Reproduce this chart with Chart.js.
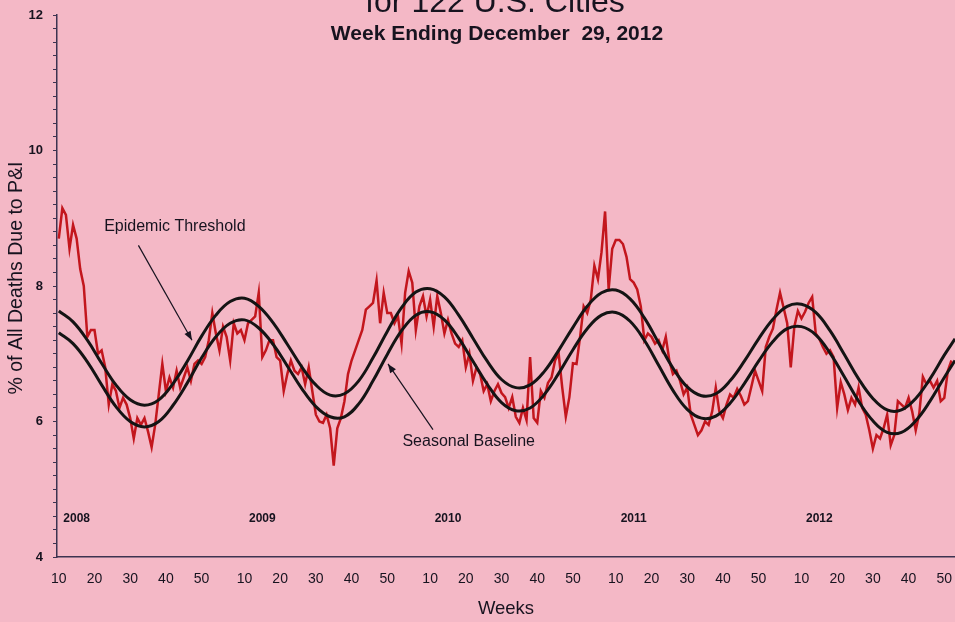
<!DOCTYPE html>
<html>
<head>
<meta charset="utf-8">
<script src="https://cdn.jsdelivr.net/npm/chart.js"></script>
<style>
  html, body { margin: 0; padding: 0; background: #f4b8c6; }
  #wrap { width: 955px; height: 622px; position: relative; }
</style>
</head>
<body>
<div id="wrap"><canvas id="piChart"></canvas></div>
<script>
// weekly series starts at MMWR week 10 of 2008
const startWeek = 10;
const weeksPerYear = 52;
const yearLabels = ['2008', '2009', '2010', '2011', '2012'];
const weekTickLabels = ['10', '20', '30', '40', '50'];
const yTickLabels = ['4', '6', '8', '10', '12'];

// % of all deaths due to pneumonia & influenza, one value per week
const piPercent = [
  8.7, 9.15, 9.05, 8.55, 8.9, 8.7, 8.25, 8.0, 7.25, 7.35,
  7.35, 7.0, 7.05, 6.8, 6.25, 6.55, 6.45, 6.2, 6.35, 6.25,
  6.05, 5.75, 6.05, 5.95, 6.05, 5.85, 5.62, 5.95, 6.4, 6.85,
  6.45, 6.65, 6.5, 6.75, 6.5, 6.65, 6.8, 6.6, 6.85, 6.9,
  6.85, 6.95, 7.2, 7.6, 7.3, 7.05, 7.4, 7.25, 6.9, 7.45,
  7.3, 7.35, 7.2, 7.45, 7.5, 7.55, 7.9, 6.95, 7.05, 7.2,
  7.2, 6.95, 6.9, 6.45, 6.7, 6.9, 6.75, 6.7, 6.8, 6.55,
  6.8, 6.45, 6.1, 6.0, 5.98, 6.1, 5.9, 5.35, 5.9, 6.05,
  6.3, 6.7, 6.9, 7.05, 7.2, 7.35, 7.65, 7.7, 7.75, 8.08,
  7.45, 7.9, 7.6, 7.6, 7.45, 7.55, 7.15, 7.9, 8.22, 8.05,
  7.35, 7.7, 7.85, 7.55, 7.8, 7.4, 7.85, 7.6, 7.3, 7.5,
  7.3, 7.15, 7.1, 7.2, 6.8, 7.0, 6.6, 6.8, 6.7, 6.45,
  6.55, 6.3, 6.45, 6.55, 6.42, 6.36, 6.2, 6.36, 6.07, 5.98,
  6.2, 6.02, 6.95, 6.05, 5.98, 6.45, 6.35, 6.57, 6.65, 6.9,
  7.0, 6.5, 6.07, 6.36, 6.86, 6.85, 7.25, 7.7, 7.6, 7.8,
  8.3, 8.1, 8.5, 9.1, 7.95, 8.55, 8.68, 8.68, 8.62, 8.43,
  8.1, 8.05, 7.95, 7.7, 7.2, 7.3, 7.25, 7.15, 7.2, 7.05,
  7.25, 6.9, 6.7, 6.75, 6.6, 6.4, 6.5, 6.1, 5.95, 5.8,
  5.87, 6.0, 5.95, 6.15, 6.5, 6.15, 6.05, 6.25, 6.4, 6.35,
  6.48, 6.38, 6.25, 6.3, 6.52, 6.75, 6.6, 6.45, 7.1, 7.25,
  7.37, 7.65, 7.9, 7.68, 7.45, 6.8, 7.4, 7.63, 7.52, 7.62,
  7.75, 7.84, 7.3, 7.22, 7.1, 7.0, 7.05, 6.95, 6.2, 6.58,
  6.4, 6.17, 6.35, 6.25, 6.5, 6.2, 6.1, 5.87, 5.6, 5.8,
  5.75, 5.9, 6.1, 5.65, 5.8, 6.3, 6.25, 6.2, 6.35, 6.15,
  5.87, 6.12, 6.66, 6.55, 6.6, 6.5, 6.6, 6.3, 6.35, 6.75,
  6.9
];

// baseline / threshold read every 4 weeks (week index from start)
const curveWeeks = [
  0, 4, 8, 12, 16, 20, 24, 28, 32, 36, 40, 44, 48, 52, 56, 60,
  64, 68, 72, 76, 80, 84, 88, 92, 96, 100, 104, 108, 112, 116, 120, 124,
  128, 132, 136, 140, 144, 148, 152, 156, 160, 164, 168, 172, 176, 180, 184, 188,
  192, 196, 200, 204, 208, 212, 216, 220, 224, 228, 232, 236, 240, 244, 248, 251
];
const seasonalBaseline = [
  7.31, 7.15, 6.88, 6.54, 6.22, 6.00, 5.92, 6.00, 6.24, 6.57, 6.94, 7.25, 7.45, 7.50, 7.38, 7.14,
  6.82, 6.49, 6.22, 6.07, 6.07, 6.26, 6.60, 6.99, 7.34, 7.57, 7.62, 7.50, 7.23, 6.89, 6.55, 6.28,
  6.16, 6.20, 6.40, 6.71, 7.06, 7.37, 7.57, 7.61, 7.48, 7.20, 6.83, 6.46, 6.18, 6.05, 6.08, 6.27,
  6.56, 6.89, 7.18, 7.37, 7.40, 7.28, 7.01, 6.66, 6.30, 6.01, 5.84, 5.84, 6.01, 6.30, 6.65, 6.90
];
const epidemicThreshold = [
  7.63, 7.47, 7.20, 6.86, 6.54, 6.32, 6.24, 6.32, 6.56, 6.89, 7.26, 7.57, 7.77, 7.82, 7.70, 7.46,
  7.14, 6.81, 6.54, 6.39, 6.41, 6.60, 6.94, 7.33, 7.68, 7.91, 7.96, 7.84, 7.57, 7.23, 6.89, 6.62,
  6.50, 6.54, 6.74, 7.05, 7.39, 7.70, 7.90, 7.94, 7.81, 7.53, 7.16, 6.79, 6.51, 6.38, 6.41, 6.60,
  6.89, 7.22, 7.51, 7.70, 7.73, 7.61, 7.34, 6.99, 6.63, 6.34, 6.17, 6.17, 6.34, 6.63, 6.98, 7.22
];

const FONT = '"Liberation Sans", Arial, sans-serif';
const INK = '#17131f';

function weekOf(i) {
  return ((i + startWeek - 1) % weeksPerYear) + 1;
}

const xTickIdx = [];
piPercent.forEach(function(v, i) {
  if (weekTickLabels.includes(String(weekOf(i)))) xTickIdx.push(i);
});

function arrow(ctx, x0, y0, x1, y1) {
  ctx.beginPath();
  ctx.moveTo(x0, y0);
  ctx.lineTo(x1, y1);
  ctx.stroke();
  const a = Math.atan2(y1 - y0, x1 - x0);
  ctx.beginPath();
  ctx.moveTo(x1, y1);
  ctx.lineTo(x1 - 9 * Math.cos(a) + 3.5 * Math.sin(a), y1 - 9 * Math.sin(a) - 3.5 * Math.cos(a));
  ctx.lineTo(x1 - 9 * Math.cos(a) - 3.5 * Math.sin(a), y1 - 9 * Math.sin(a) + 3.5 * Math.cos(a));
  ctx.closePath();
  ctx.fill();
}

const overlay = {
  id: 'overlay',
  afterDraw(chart) {
    const ctx = chart.ctx;
    const x = chart.scales.x, y = chart.scales.y;
    ctx.save();
    ctx.fillStyle = INK;
    ctx.strokeStyle = INK;
    ctx.textAlign = 'center';
    ctx.textBaseline = 'alphabetic';
    ctx.font = '32px ' + FONT;
    ctx.fillText('for 122 U.S. Cities', 495, 12);
    ctx.font = 'bold 21px ' + FONT;
    ctx.fillText('Week Ending December  29, 2012', 497, 40);

    // y axis title
    ctx.save();
    ctx.translate(17, 278);
    ctx.rotate(-Math.PI / 2);
    ctx.textBaseline = 'middle';
    ctx.font = '19.5px ' + FONT;
    ctx.fillText('% of All Deaths Due to P&I', 0, 0);
    ctx.restore();

    // year labels near the bottom of the plot
    ctx.font = 'bold 12px ' + FONT;
    ctx.textBaseline = 'middle';
    yearLabels.forEach(function(lbl, k) {
      ctx.fillText(lbl, x.getPixelForValue(k * weeksPerYear + 15 - startWeek), y.getPixelForValue(4.57));
    });

    // annotations
    ctx.font = '16px ' + FONT;
    ctx.fillText('Epidemic Threshold', x.getPixelForValue(32.5), y.getPixelForValue(8.87));
    ctx.fillText('Seasonal Baseline', x.getPixelForValue(114.8), y.getPixelForValue(5.7));
    ctx.lineWidth = 1.2;
    arrow(ctx, x.getPixelForValue(22.3), y.getPixelForValue(8.6), x.getPixelForValue(37.3), y.getPixelForValue(7.2));
    arrow(ctx, x.getPixelForValue(104.8), y.getPixelForValue(5.88), x.getPixelForValue(92.2), y.getPixelForValue(6.85));
    ctx.restore();
  }
};

new Chart(document.getElementById('piChart'), {
  type: 'line',
  data: {
    datasets: [{
      label: 'Epidemic Threshold',
      data: curveWeeks.map(function(w, k) { return {x: w, y: epidemicThreshold[k]}; }),
      borderColor: '#141414',
      borderWidth: 3,
      pointRadius: 0,
      tension: 0.4
    }, {
      label: 'Seasonal Baseline',
      data: curveWeeks.map(function(w, k) { return {x: w, y: seasonalBaseline[k]}; }),
      borderColor: '#141414',
      borderWidth: 3,
      pointRadius: 0,
      tension: 0.4
    }, {
      label: 'P&I',
      data: piPercent.map(function(v, i) { return {x: i, y: v}; }),
      borderColor: '#c3161d',
      borderWidth: 2.5,
      pointRadius: 0,
      tension: 0
    }]
  },
  options: {
    responsive: true,
    maintainAspectRatio: false,
    animation: false,
    layout: { padding: { top: 15, right: 0, left: 0, bottom: 0 } },
    plugins: {
      legend: { display: false },
      tooltip: { enabled: false }
    },
    scales: {
      x: {
        type: 'linear',
        min: -0.5,
        max: 251,
        afterFit: function(s) { s.height = 65; s.paddingLeft = 0; s.paddingRight = 0; },
        afterBuildTicks: function(s) { s.ticks = xTickIdx.map(function(v) { return {value: v}; }); },
        grid: { drawOnChartArea: false, drawTicks: false },
        border: { color: '#3d3350', width: 1.5 },
        ticks: {
          autoSkip: false,
          maxRotation: 0,
          padding: 14,
          color: INK,
          font: { family: FONT, size: 14 },
          callback: function(v) { return String(weekOf(v)); }
        },
        title: {
          display: true,
          text: 'Weeks',
          color: INK,
          font: { family: FONT, size: 18.5 },
          padding: { top: 0, bottom: 2 }
        }
      },
      y: {
        min: 4,
        max: 12,
        afterFit: function(s) { s.width = 57; s.paddingTop = 0; s.paddingBottom = 0; },
        grid: { drawOnChartArea: false, tickLength: 4, tickColor: '#3d3350' },
        border: { color: '#3d3350', width: 1.5 },
        ticks: {
          stepSize: 0.2,
          autoSkip: false,
          padding: 10,
          color: INK,
          font: { family: FONT, size: 13, weight: 'bold' },
          callback: function(v) {
            const s = String(Math.round(v * 10) / 10);
            return yTickLabels.includes(s) ? s : '';
          }
        }
      }
    }
  },
  plugins: [overlay]
});
</script>
</body>
</html>
